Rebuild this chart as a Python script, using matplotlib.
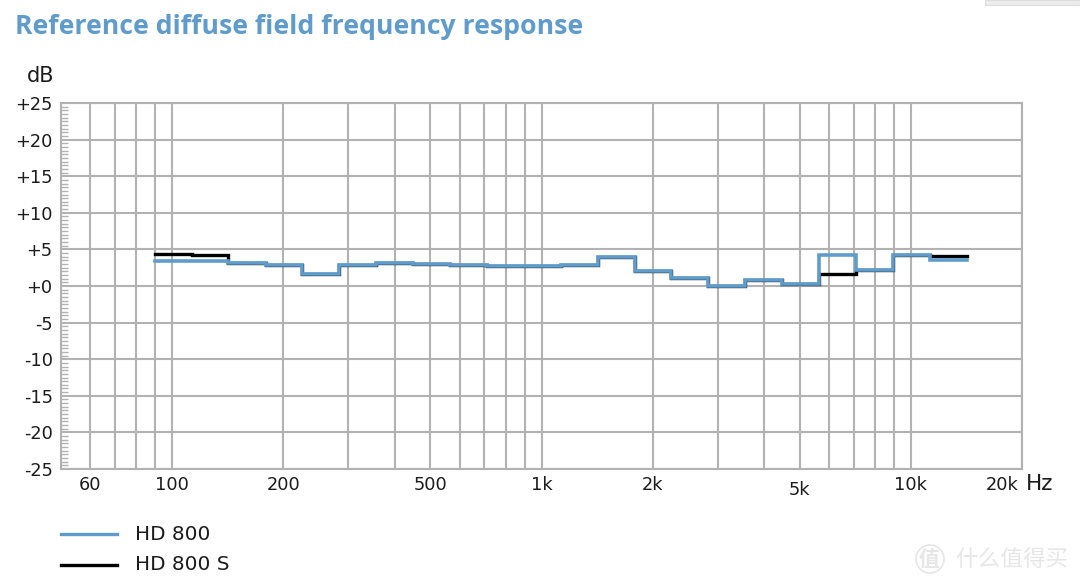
import matplotlib
matplotlib.use("Agg")
import matplotlib.pyplot as plt
import numpy as np
from matplotlib.patches import Ellipse, Rectangle
from matplotlib.transforms import ScaledTranslation

# third octave band edges, Hz
band_edges = [90, 113, 142, 179, 225, 283, 356, 449, 565, 711, 895, 1127,
              1419, 1786, 2249, 2831, 3564, 4487, 5649, 7112, 8953, 11271, 14190]
hd800 = [3.45, 3.37, 3.2, 2.87, 1.6, 2.87, 3.1, 3.0, 2.87, 2.7, 2.7, 2.87,
         3.9, 2.1, 1.05, 0.05, 0.82, 0.27, 4.28, 2.2, 4.2, 3.55]
hd800s = [4.37, 4.23, 3.2, 2.87, 1.6, 2.87, 3.1, 3.0, 2.87, 2.7, 2.7, 2.87,
          3.9, 2.1, 1.05, 0.05, 0.82, 0.27, 1.6, 2.2, 4.2, 4.15]

x_ticks = [60, 100, 200, 500, 1000, 2000, 5000, 10000, 20000]
x_labels = ["60", "100", "200", "500", "1k", "2k", "5k", "10k", "20k"]
x_minor = [70, 80, 90, 300, 400, 600, 700, 800, 900,
           3000, 4000, 6000, 7000, 8000, 9000]
y_ticks = list(range(-25, 30, 5))
y_labels = ["-25", "-20", "-15", "-10", "-5", "+0", "+5", "+10", "+15", "+20", "+25"]

W, H = 1080, 585
GREY = "#b2b2b2"
BLUE = "#5f9ccb"
TXT = "#1c1c1c"
MARK = "#e6e6e6"

fig = plt.figure(figsize=(W / 100, H / 100), dpi=100)
ax = fig.add_axes([61 / W, 1 - 469 / H, (1022 - 61) / W, (469 - 103) / H])

ax.set_xscale("log")
ax.set_xlim(50, 20000)
ax.set_ylim(-25, 25)

ax.set_xticks(x_ticks)
ax.set_xticklabels(x_labels)
ax.set_xticks(x_minor, minor=True)
ax.set_xticklabels([], minor=True)
ax.set_yticks(y_ticks)
ax.set_yticklabels(y_labels)
ax.set_yticks(np.arange(-25, 25.5, 0.5), minor=True)

ax.set_axisbelow(True)
ax.grid(True, which="major", axis="both", color=GREY, lw=1.5)
ax.grid(True, which="minor", axis="x", color=GREY, lw=1.5)
ax.tick_params(axis="x", which="both", length=0, labelsize=12.8, labelcolor=TXT, pad=5)
ax.tick_params(axis="y", which="major", length=0, labelsize=12.8, labelcolor=TXT, pad=6)
ax.tick_params(axis="y", which="minor", direction="in", length=5, width=1, color=GREY)
ax.xaxis.get_major_ticks()[6].set_pad(8.5)  # the 5k label sits lower in the original
for s in ax.spines.values():
    s.set_color(GREY)
    s.set_linewidth(1.5)

# 20k label sits left of the last gridline
lab = ax.get_xticklabels()[-1]
lab.set_transform(lab.get_transform() + ScaledTranslation(-20 / 100, 0, fig.dpi_scale_trans))

# step lines, last level repeated so the final band gets drawn
ax.step(band_edges, hd800s + hd800s[-1:], where="post", color="black", lw=2.4,
        solid_joinstyle="miter", label="HD 800 S", zorder=3)
ax.step(band_edges, hd800 + hd800[-1:], where="post", color=BLUE, lw=2.6,
        solid_joinstyle="miter", label="HD 800", zorder=4)

fig.text(15 / W, 1 - 27 / H, "Reference diffuse field frequency response", color=BLUE,
         fontsize=19.2, fontweight="bold", family="Open Sans", va="center")
fig.text(41 / W, 1 - 76 / H, "dB", color=TXT, fontsize=15, ha="center", va="center")
fig.text(1040 / W, 1 - 484 / H, "Hz", color=TXT, fontsize=15.5, ha="center", va="center")

# legend drawn by hand to keep the original spacing
for y, name, c in [(534, "HD 800", BLUE), (565, "HD 800 S", "black")]:
    fig.add_artist(plt.Line2D([61 / W, 117 / W], [1 - y / H, 1 - y / H], color=c, lw=2.4))
    fig.text(135 / W, 1 - y / H, name, color=TXT, fontsize=14.4, va="center")

# watermark and screenshot leftover
fig.text(955 / W, 1 - 559 / H, "什么值得买", color=MARK, fontsize=16.3,
         family="Noto Sans CJK SC", va="center")
fig.text(929 / W, 1 - 559 / H, "值", color=MARK, fontsize=15,
         family="Noto Sans CJK SC", ha="center", va="center", fontweight="bold")
fig.add_artist(Ellipse((930 / W, 1 - 559 / H), 28 / W, 28 / H, transform=fig.transFigure,
                       facecolor="none", edgecolor=MARK, lw=1.2))
fig.add_artist(Rectangle((985 / W, 1 - 5 / H), 95 / W, 5 / H, transform=fig.transFigure,
                         facecolor="#ececec", edgecolor="#dddddd", lw=0.8))

fig.savefig("out.png", dpi=100)
